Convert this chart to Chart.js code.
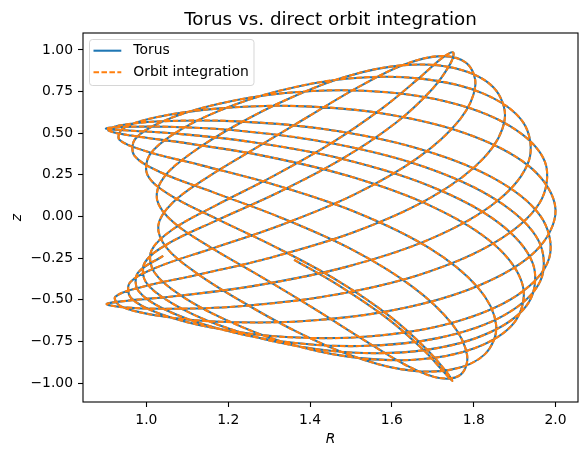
<!DOCTYPE html>
<html><head><meta charset="utf-8">
<script src="https://cdn.jsdelivr.net/npm/chart.js@4"></script>
<style>html,body{margin:0;padding:0;background:#fff}#wrap{width:587px;height:455px}</style>
</head><body><div id="wrap"><canvas id="c" width="587" height="455"></canvas></div>
<script>
// Meridional-plane orbit (R, z) in path order
const orbitR = [1.361,
1.463,1.591,1.680,1.730,1.748,1.734,1.685,1.596,1.468,1.317,1.172,1.060,1.003,1.008,1.070,1.179,
1.325,1.495,1.671,1.824,1.921,1.935,1.856,1.696,1.486,1.267,1.080,0.953,0.903,0.934,1.045,1.222,
1.442,1.666,1.851,1.961,1.974,1.888,1.730,1.532,1.333,1.162,1.038,0.972,0.971,1.037,1.164,1.329,
1.503,1.650,1.747,1.784,1.769,1.716,1.637,1.536,1.414,1.282,1.158,1.066,1.026,1.043,1.113,1.219,
1.349,1.489,1.630,1.757,1.848,1.876,1.825,1.697,1.513,1.308,1.123,0.989,0.924,0.937,1.025,1.181,
1.386,1.611,1.813,1.953,2.000,1.943,1.796,1.592,1.371,1.172,1.024,0.942,0.934,1.001,1.135,1.317,
1.515,1.691,1.810,1.855,1.827,1.742,1.625,1.495,1.361,1.234,1.125,1.051,1.029,1.064,1.150,1.268,
1.397,1.520,1.629,1.719,1.783,1.804,1.767,1.665,1.509,1.328,1.157,1.027,0.960,0.962,1.031,1.162,
1.342,1.549,1.750,1.908,1.985,1.963,1.844,1.651,1.425,1.209,1.037,0.933,0.907,0.963,1.093,1.281,
1.497,1.700,1.851,1.920,1.900,1.802,1.655,1.489,1.328,1.189,1.082,1.019,1.012,1.064,1.170,1.309,
1.453,1.577,1.668,1.724,1.750,1.743,1.699,1.610,1.477,1.322,1.172,1.056,0.996,0.999,1.062,1.173,
1.324,1.501,1.684,1.839,1.935,1.944,1.858,1.691,1.477,1.257,1.071,0.947,0.901,0.937,1.053,1.233,
1.453,1.675,1.855,1.958,1.963,1.874,1.715,1.521,1.328,1.164,1.044,0.980,0.979,
1.041];
const orbitZ = [-0.260,
-0.403,-0.616,-0.808,-0.942,-0.988,-0.935,-0.797,-0.601,-0.386,-0.185,-0.014,0.125,0.248,0.370,0.501,0.636,
0.755,0.829,0.828,0.738,0.565,0.336,0.090,-0.133,-0.304,-0.415,-0.476,-0.506,-0.525,-0.543,-0.554,-0.540,
-0.478,-0.351,-0.157,0.081,0.329,0.544,0.692,0.755,0.740,0.668,0.569,0.464,0.364,0.263,0.145,-0.007,
-0.199,-0.421,-0.645,-0.833,-0.948,-0.970,-0.896,-0.748,-0.559,-0.364,-0.187,-0.035,0.101,0.237,0.386,0.548,
0.709,0.841,0.909,0.889,0.776,0.586,0.352,0.116,-0.089,-0.244,-0.351,-0.423,-0.482,-0.539,-0.594,-0.632,
-0.628,-0.559,-0.414,-0.204,0.043,0.286,0.485,0.613,0.663,0.648,0.596,0.528,0.461,0.391,0.307,0.188,
0.023,-0.189,-0.426,-0.653,-0.828,-0.921,-0.918,-0.830,-0.684,-0.512,-0.344,-0.193,-0.055,0.083,0.237,0.412,
0.602,0.780,0.911,0.963,0.920,0.786,0.585,0.355,0.133,-0.052,-0.195,-0.304,-0.396,-0.488,-0.582,-0.668,
-0.724,-0.719,-0.636,-0.470,-0.246,0.004,0.236,0.417,0.528,0.573,0.572,0.546,0.517,0.486,0.442,0.367,
0.241,0.058,-0.170,-0.415,-0.634,-0.791,-0.860,-0.840,-0.749,-0.615,-0.471,-0.333,-0.206,-0.078,0.067,0.241,
0.442,0.651,0.834,0.954,0.985,0.918,0.766,0.563,0.344,0.144,-0.023,-0.159,-0.277,-0.395,-0.520,-0.648,
-0.757,-0.817,-0.801,-0.697,-0.514,-0.278,-0.032,0.185,0.347,0.447,0.498,0.518,0.528,0.538,0.539,0.514,
0.440,0.302,0.100,-0.142,-0.387,-0.594,-0.729,-0.778,-0.749,-0.665,-0.557,-0.445,-0.339,
-0.236];
const seriesNames = ['Torus', 'Orbit integration'];
const xTicks = [1.0, 1.2, 1.4, 1.6, 1.8, 2.0];
const yTicks = [-1.0, -0.75, -0.5, -0.25, 0.0, 0.25, 0.5, 0.75, 1.0];
const titleText = 'Torus vs. direct orbit integration';
const xLabel = 'R';
const yLabel = 'z';

const BLUE = '#1f77b4', ORANGE = '#ff7f0e';
const FONT = '"DejaVu Sans", "Liberation Sans", sans-serif';
const DASH = [5.55, 2.4];

const n = Math.min(orbitR.length, orbitZ.length);
const pts = [];
for (let i = 0; i < n; i++) pts.push({x: orbitR[i], y: orbitZ[i]});

const deco = {
  id: 'deco',
  afterDraw(chart) {
    const ctx = chart.ctx, a = chart.chartArea;
    ctx.save();
    ctx.strokeStyle = '#000'; ctx.lineWidth = 1.1;
    ctx.strokeRect(Math.round(a.left), Math.round(a.top), Math.round(a.right - a.left), Math.round(a.bottom - a.top));
    ctx.fillStyle = '#000';
    ctx.font = '18.3px ' + FONT;
    ctx.textAlign = 'center'; ctx.textBaseline = 'alphabetic';
    ctx.fillText(titleText, (a.left + a.right) / 2, 25);
    ctx.font = 'italic 13.9px ' + FONT;
    ctx.fillText(xLabel, (a.left + a.right) / 2, 443);
    ctx.save();
    ctx.translate(21, (a.top + a.bottom) / 2);
    ctx.rotate(-Math.PI / 2);
    ctx.fillText(yLabel, 0, 0);
    ctx.restore();
    const lx = 89.5, ly = 39.5, lw = 164.5, lh = 46;
    ctx.beginPath();
    if (ctx.roundRect) ctx.roundRect(lx, ly, lw, lh, 3); else ctx.rect(lx, ly, lw, lh);
    ctx.fillStyle = 'rgba(255,255,255,0.8)'; ctx.fill();
    ctx.strokeStyle = 'rgba(204,204,204,0.8)'; ctx.lineWidth = 1; ctx.stroke();
    const rows = [50.7, 72.3];
    ctx.lineWidth = 2.08; ctx.lineCap = 'butt';
    ctx.strokeStyle = BLUE; ctx.setLineDash([]);
    ctx.beginPath(); ctx.moveTo(93.5, rows[0]); ctx.lineTo(121.3, rows[0]); ctx.stroke();
    ctx.strokeStyle = ORANGE; ctx.setLineDash(DASH);
    ctx.beginPath(); ctx.moveTo(93.5, rows[1]); ctx.lineTo(121.3, rows[1]); ctx.stroke();
    ctx.setLineDash([]);
    ctx.fillStyle = '#000';
    ctx.font = '13.9px ' + FONT;
    ctx.textAlign = 'left'; ctx.textBaseline = 'middle';
    ctx.fillText(seriesNames[0], 133.3, rows[0]);
    ctx.fillText(seriesNames[1], 133.3, rows[1]);
    ctx.restore();
  }
};

new Chart(document.getElementById('c'), {
  type: 'scatter',
  data: {
    datasets: [
      {label: seriesNames[0], data: pts, showLine: true, borderColor: BLUE, backgroundColor: BLUE,
       borderWidth: 2.08, pointRadius: 0, tension: 0.35, borderJoinStyle: 'round', order: 2},
      {label: seriesNames[1], data: pts, showLine: true, borderColor: ORANGE, backgroundColor: ORANGE,
       borderWidth: 2.08, borderDash: DASH, pointRadius: 0, tension: 0.35, borderJoinStyle: 'round', order: 1}
    ]
  },
  options: {
    responsive: false, animation: false, devicePixelRatio: 1,
    events: [],
    layout: {padding: {left: 0, right: 9, top: 33, bottom: 0}},
    plugins: {legend: {display: false}, title: {display: false}, tooltip: {enabled: false}},
    scales: {
      x: {
        type: 'linear', min: 0.845, max: 2.055,
        afterBuildTicks: s => { s.ticks = xTicks.map(v => ({value: v})); },
        afterFit: s => { s.height = 53; },
        ticks: {callback: v => Number(v).toFixed(1), color: '#000', font: {family: FONT, size: 13.9},
                padding: 5, maxRotation: 0, autoSkip: false},
        grid: {display: true, drawOnChartArea: false, drawTicks: true, tickLength: 5, tickColor: '#000', tickWidth: 1.1},
        border: {display: false}
      },
      y: {
        type: 'linear', min: -1.114, max: 1.102,
        afterBuildTicks: s => { s.ticks = yTicks.map(v => ({value: v})); },
        afterFit: s => { s.width = 83; },
        ticks: {callback: v => (v < 0 ? '\u2212' : '') + Math.abs(v).toFixed(2), color: '#000',
                font: {family: FONT, size: 13.9}, padding: 5, autoSkip: false},
        grid: {display: true, drawOnChartArea: false, drawTicks: true, tickLength: 5, tickColor: '#000', tickWidth: 1.1},
        border: {display: false}
      }
    }
  },
  plugins: [deco]
});
</script></body></html>
